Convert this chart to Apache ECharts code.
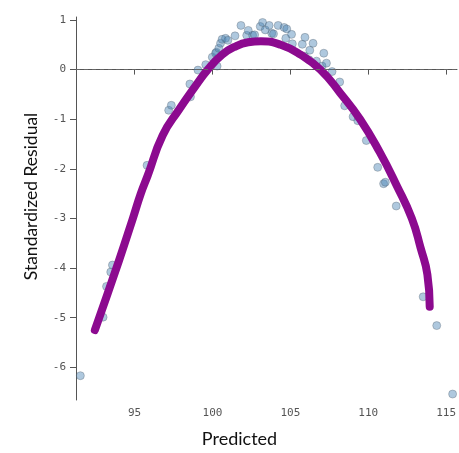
<!DOCTYPE html>
<html>
<head>
<meta charset="utf-8">
<script src="https://cdn.jsdelivr.net/npm/echarts@6/dist/echarts.min.js"></script>
<style>
  html, body { margin: 0; padding: 0; background: #fff; }
  #chart { width: 459px; height: 453px; }
</style>
</head>
<body>
<div id="chart"></div>
<script>
// residual points (predicted, standardized residual)
const pointX = [91.52, 92.98, 93.2, 93.47, 93.58, 95.8, 97.19, 97.36, 98.59, 98.55,
  99.07, 99.57, 99.99, 100.25, 100.3, 100.2, 100.41, 100.52, 100.62, 100.84,
  100.99, 101.45, 101.83, 102.2, 102.3, 102.58, 102.71, 103.07, 103.22, 103.39,
  103.64, 103.81, 103.92, 104.22, 104.6, 104.71, 104.77, 105.08, 105.13, 105.77,
  105.94, 106.25, 106.46, 105.92, 106.2, 106.68, 107.15, 107.04, 107.32, 107.68,
  108.17, 108.49, 109.03, 109.33, 109.88, 110.61, 110.99, 111.1, 111.8, 113.53,
  114.4, 115.42];
const pointY = [-6.17, -4.99, -4.37, -4.08, -3.94, -1.93, -0.82, -0.72, -0.55, -0.29,
  -0.01, 0.1, 0.25, 0.35, 0.07, 0.33, 0.43, 0.53, 0.61, 0.63,
  0.59, 0.68, 0.89, 0.69, 0.79, 0.69, 0.7, 0.87, 0.95, 0.8,
  0.89, 0.73, 0.72, 0.89, 0.85, 0.63, 0.82, 0.71, 0.52, 0.51,
  0.65, 0.39, 0.53, 0.27, 0.2, 0.17, 0.33, 0.07, 0.13, -0.04,
  -0.25, -0.73, -0.95, -1.03, -1.43, -1.97, -2.3, -2.27, -2.75, -4.58,
  -5.16, -6.54];

// smoothed fit curve
const fitX = [92.45, 94.0, 94.89, 95.4, 95.85, 96.8, 97.87, 98.8, 99.7, 100.62,
  101.5, 102.3, 103.11, 104.38, 105.66, 106.93, 108.2, 109.48, 110.75, 111.82,
  112.8, 113.37, 113.8, 113.95];
const fitY = [-5.25, -3.85, -3.0, -2.5, -2.13, -1.33, -0.8, -0.38, 0.0, 0.3,
  0.47, 0.55, 0.57, 0.5, 0.3, 0.0, -0.47, -1.0, -1.67, -2.33,
  -3.0, -3.6, -4.13, -4.78];

const xTicks = [95, 100, 105, 110, 115];
const yTicks = [-6, -5, -4, -3, -2, -1, 0, 1];

const chart = echarts.init(document.getElementById('chart'));
const tickFont = { fontFamily: 'DejaVu Sans Mono', fontSize: 11, color: '#555' };

chart.setOption({
  animation: false,
  grid: { left: 76, top: 17, right: 0, bottom: 50 },
  xAxis: {
    type: 'value',
    min: 91.24,
    max: 115.7,
    interval: 5,
    name: 'Predicted',
    nameLocation: 'middle',
    nameGap: 30,
    nameTextStyle: { fontFamily: 'Lato', fontSize: 18, color: '#111', padding: [0, 54, 0, 0] },
    axisLine: { show: true, lineStyle: { color: '#555' } },
    axisTick: { show: true, length: 5, lineStyle: { color: '#555' }, customValues: xTicks },
    axisLabel: Object.assign({ margin: 8, customValues: xTicks }, tickFont),
    splitLine: { show: false }
  },
  yAxis: {
    type: 'value',
    min: -6.66,
    max: 1.06,
    name: 'Standardized Residual',
    nameLocation: 'middle',
    nameGap: 36,
    nameTextStyle: { fontFamily: 'Lato', fontSize: 17.5, color: '#111', padding: [0, 0, 0, 24] },
    axisLine: { show: true, lineStyle: { color: '#555' } },
    axisTick: { show: true, length: 6, lineStyle: { color: '#555' }, customValues: yTicks },
    axisLabel: Object.assign({ margin: 10, customValues: yTicks }, tickFont),
    splitLine: { show: false }
  },
  series: [
    {
      type: 'scatter',
      data: pointX.map((x, i) => [x, pointY[i]]),
      symbolSize: 8,
      itemStyle: {
        color: 'rgba(70, 130, 180, 0.55)',
        borderColor: 'rgba(90, 100, 110, 0.45)',
        borderWidth: 1
      },
      markLine: {
        silent: true,
        symbol: 'none',
        label: { show: false },
        lineStyle: { color: '#666', type: [4, 4], width: 1 },
        data: [{ yAxis: 0 }]
      },
      z: 2
    },
    {
      type: 'line',
      data: fitX.map((x, i) => [x, fitY[i]]),
      smooth: 0.5,
      showSymbol: false,
      lineStyle: { color: '#8c0a8f', width: 8, cap: 'round', join: 'round' },
      z: 3
    }
  ]
});
</script>
</body>
</html>
